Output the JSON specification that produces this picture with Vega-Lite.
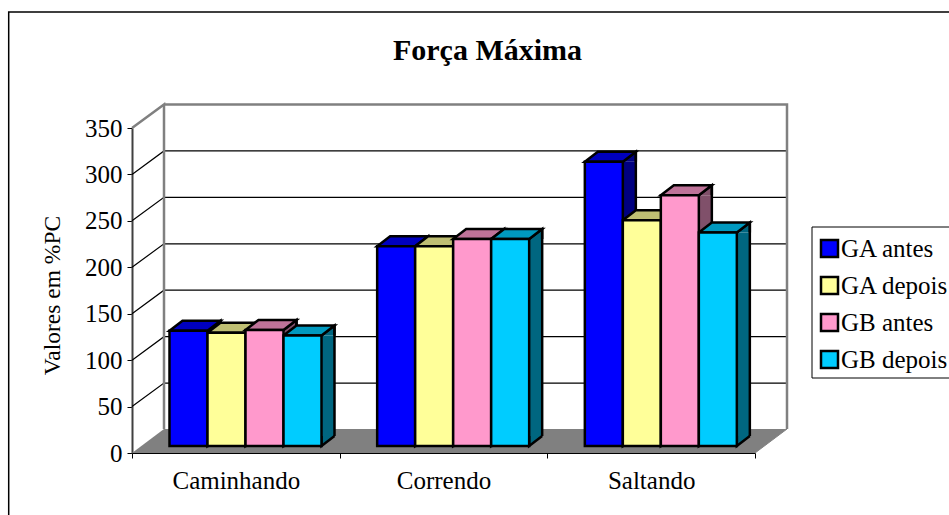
{
"$schema":"https://vega.github.io/schema/vega-lite/v6.json",
"width":623,"height":325,
"autosize":{"type":"none"},
"padding":{"left":132,"top":128,"right":194,"bottom":62},
"background":"white",
"title":{"text":"Força Máxima","anchor":"middle","font":"Liberation Serif","fontWeight":"bold","fontSize":30,"color":"black","dx":44,"offset":-57},
"config":{"view":{"stroke":null}},
"datasets":{"bars":[
{"group":"Caminhando","series":"GA antes","value":124},
{"group":"Caminhando","series":"GA depois","value":122},
{"group":"Caminhando","series":"GB antes","value":125},
{"group":"Caminhando","series":"GB depois","value":119},
{"group":"Correndo","series":"GA antes","value":215},
{"group":"Correndo","series":"GA depois","value":215},
{"group":"Correndo","series":"GB antes","value":223},
{"group":"Correndo","series":"GB depois","value":223},
{"group":"Saltando","series":"GA antes","value":306},
{"group":"Saltando","series":"GA depois","value":243},
{"group":"Saltando","series":"GB antes","value":270},
{"group":"Saltando","series":"GB depois","value":230}
],"grid":[{"group":"Caminhando","v":50},{"group":"Caminhando","v":100},{"group":"Caminhando","v":150},{"group":"Caminhando","v":200},{"group":"Caminhando","v":250},{"group":"Caminhando","v":300}],"frame":[{"group":"Caminhando","v":0}]},
"data":{"name":"bars"},
"resolve":{"scale":{"color":"independent","xOffset":"independent"}},
"layer":[
{"data":{"name":"frame"},
 "mark":{"type":"point","filled":false,"stroke":"black","strokeWidth":1.5,"opacity":1,"size":4,"shape":"M-123.3,100 L-123.3,-441 L900,-441"},
 "encoding":{"x":{"field":"group","type":"nominal","bandPosition":0},"y":{"field":"v","type":"quantitative"}}},
{"data":{"name":"frame"},
 "mark":{"type":"point","filled":true,"fill":"#808080","stroke":null,"opacity":1,"size":4,"shape":"M0,0 L32,-24 L655,-24 L623,0 Z"},
 "encoding":{"x":{"field":"group","type":"nominal","bandPosition":0},"y":{"field":"v","type":"quantitative"}}},
{"data":{"name":"grid"},
 "mark":{"type":"point","filled":false,"stroke":"black","strokeWidth":1.2,"opacity":1,"size":4,"shape":"M0,0 L32,-23.5 L655,-23.5"},
 "encoding":{"x":{"field":"group","type":"nominal","bandPosition":0},"y":{"field":"v","type":"quantitative"}}},
{"data":{"name":"frame"},
 "mark":{"type":"point","filled":false,"stroke":"#808080","strokeWidth":2.5,"opacity":1,"size":4,"shape":"M0,-325 L32,-348.5 L32,-24 M32,-348.5 L655,-348.5 L655,-24"},
 "encoding":{"x":{"field":"group","type":"nominal","bandPosition":0},"y":{"field":"v","type":"quantitative"}}},
{"data":{"name":"frame"},
 "mark":{"type":"point","filled":false,"stroke":"#808080","strokeWidth":1,"opacity":1,"size":4,"shape":"M623,0 L655,-24"},
 "encoding":{"x":{"field":"group","type":"nominal","bandPosition":0},"y":{"field":"v","type":"quantitative"}}},
{"data":{"name":"frame"},
 "mark":{"type":"point","filled":true,"fill":"white","stroke":"black","strokeWidth":1,"opacity":1,"size":4,"shape":"M680,-226 L1000,-226 L1000,-75 L680,-75 Z"},
 "encoding":{"x":{"field":"group","type":"nominal","bandPosition":0},"y":{"field":"v","type":"quantitative"}}},
{"mark":{"type":"bar","width":13,"yOffset":-7,"y2Offset":-17,"stroke":null},
 "encoding":{
  "x":{"field":"group","type":"nominal"},
  "xOffset":{"field":"series","type":"nominal","scale":{"type":"band","paddingInner":0,"paddingOuter":0,"range":[63,215]}},
  "y":{"field":"value","type":"quantitative","stack":null},"y2":{"datum":0},
  "color":{"field":"series","type":"nominal","legend":null,"scale":{"domain":["GA antes","GA depois","GB antes","GB depois"],"range":["#000080","#808050","#80506a","#006680"]}}}},
{"mark":{"type":"point","filled":true,"opacity":1,"stroke":"black","strokeWidth":2.5,"size":4,"yOffset":-7,"shape":"M19,0 L32,-10 L32,0"},
 "encoding":{
  "x":{"field":"group","type":"nominal"},
  "xOffset":{"field":"series","type":"nominal","scale":{"type":"band","paddingInner":0,"paddingOuter":0,"range":[37.5,189.5]}},
  "y":{"field":"value","type":"quantitative","stack":null},
  "color":{"field":"series","type":"nominal","legend":null,"scale":{"domain":["GA antes","GA depois","GB antes","GB depois"],"range":["#000080","#808050","#80506a","#006680"]}}}},
{"mark":{"type":"point","filled":true,"opacity":1,"stroke":"black","strokeWidth":2.5,"size":4,"yOffset":-7,"shape":"M19,-10 L19,0 L32,-10"},
 "encoding":{
  "x":{"field":"group","type":"nominal"},
  "xOffset":{"field":"series","type":"nominal","scale":{"type":"band","paddingInner":0,"paddingOuter":0,"range":[37.5,189.5]}},
  "y":{"datum":0},
  "color":{"field":"series","type":"nominal","legend":null,"scale":{"domain":["GA antes","GA depois","GB antes","GB depois"],"range":["#000080","#808050","#80506a","#006680"]}}}},
{"mark":{"type":"rule","color":"black","strokeWidth":2.5,"yOffset":-17,"y2Offset":-17},
 "encoding":{
  "x":{"field":"group","type":"nominal"},
  "xOffset":{"field":"series","type":"nominal","scale":{"type":"band","paddingInner":0,"paddingOuter":0,"range":[69.5,221.5]}},
  "y":{"field":"value","type":"quantitative","stack":null},"y2":{"datum":0}}},
{"mark":{"type":"point","filled":true,"opacity":1,"stroke":"black","strokeWidth":2.5,"size":4,"yOffset":-7,"shape":"M-19,0 L-6,-10 L32,-10 L19,0 Z"},
 "encoding":{
  "x":{"field":"group","type":"nominal"},
  "xOffset":{"field":"series","type":"nominal","scale":{"type":"band","paddingInner":0,"paddingOuter":0,"range":[37.5,189.5]}},
  "y":{"field":"value","type":"quantitative","stack":null},
  "color":{"field":"series","type":"nominal","legend":null,"scale":{"domain":["GA antes","GA depois","GB antes","GB depois"],"range":["#0000bf","#bfbf73","#bf7399","#0099bf"]}}}},
{"mark":{"type":"bar","stroke":"black","strokeWidth":2.5,"yOffset":-7,"y2Offset":-7},
 "encoding":{
  "x":{"field":"group","type":"nominal","sort":null,"title":null,"scale":{"domain":["Caminhando","Correndo","Saltando"],"paddingInner":0,"paddingOuter":0},
   "axis":{"tickBand":"extent","labelAngle":0,"labelAlign":"center","labelBaseline":"top","labelFont":"Liberation Serif","labelFontSize":25,"labelColor":"black","labelPadding":10,"domainColor":"black","domainWidth":1,"tickColor":"black","tickSize":5,"zindex":1}},
  "xOffset":{"field":"series","type":"nominal","scale":{"type":"band","paddingInner":0,"paddingOuter":0,"range":[37.5,189.5]}},
  "y":{"field":"value","type":"quantitative","stack":null,"title":"Valores em %PC","scale":{"domain":[0,350],"nice":false},
   "axis":{"values":[0,50,100,150,200,250,300,350],"grid":false,"labelFont":"Liberation Serif","labelFontSize":25,"labelColor":"black","labelPadding":5,"domainColor":"#404040","domainWidth":2,"tickColor":"black","tickSize":5,"titleFont":"Liberation Serif","titleFontSize":23.5,"titleFontWeight":"normal","titleColor":"black","titlePadding":20,"titleY":167}},
  "y2":{"datum":0},
  "color":{"field":"series","type":"nominal","scale":{"domain":["GA antes","GA depois","GB antes","GB depois"],"range":["#0000ff","#ffff99","#ff99cc","#00ccff"]},
   "legend":{"title":null,"orient":"none","legendX":685,"legendY":108,"symbolType":"square","symbolSize":289,"symbolStrokeColor":"black","symbolStrokeWidth":2.5,"symbolOpacity":1,"labelFont":"Liberation Serif","labelFontSize":25,"labelColor":"black","labelLimit":300,"labelOffset":-1,"rowPadding":10,"padding":0}}}}
]
}
